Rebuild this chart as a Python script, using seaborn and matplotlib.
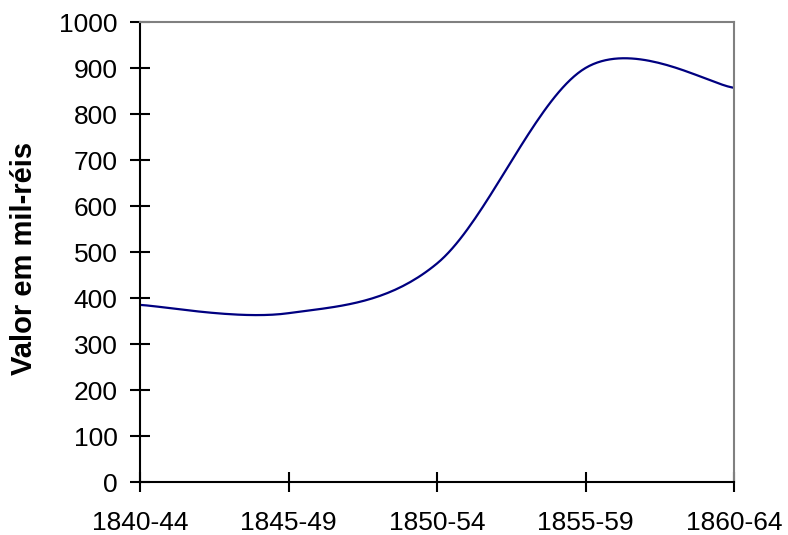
import numpy as np
import pandas as pd
import matplotlib
matplotlib.use("Agg")
import matplotlib.pyplot as plt
import seaborn as sns

periods = ["1840-44", "1845-49", "1850-54", "1855-59", "1860-64"]
valores = [385, 367, 475, 900, 857]
y_ticks = list(range(0, 1001, 100))


def excel_smooth(xs, ys, n=40):
    # bezier suave tipo Excel (tensao 1/6)
    xs = np.asarray(xs, float)
    ys = np.asarray(ys, float)
    px = np.concatenate([[xs[0]], xs, [xs[-1]]])
    py = np.concatenate([[ys[0]], ys, [ys[-1]]])
    out_x, out_y = [], []
    t = np.linspace(0, 1, n)
    for i in range(len(xs) - 1):
        p0 = np.array([px[i + 1], py[i + 1]])
        p3 = np.array([px[i + 2], py[i + 2]])
        c1 = p0 + (np.array([px[i + 2], py[i + 2]]) - np.array([px[i], py[i]])) / 6
        c2 = p3 - (np.array([px[i + 3], py[i + 3]]) - np.array([px[i + 1], py[i + 1]])) / 6
        pts = ((1 - t) ** 3)[:, None] * p0 + (3 * t * (1 - t) ** 2)[:, None] * c1 \
            + (3 * t ** 2 * (1 - t))[:, None] * c2 + (t ** 3)[:, None] * p3
        out_x.extend(pts[:, 0])
        out_y.extend(pts[:, 1])
    return out_x, out_y


sns.set_style("white")
plt.rcParams['font.family'] = ['Liberation Sans', 'DejaVu Sans']

sx, sy = excel_smooth(range(len(periods)), valores)
df = pd.DataFrame({"pos": sx, "valor": sy})

fig = plt.figure(figsize=(7.88, 5.35), dpi=100)
ax = fig.add_axes([140 / 788, 53 / 535, 594 / 788, 460 / 535])
sns.lineplot(data=df, x="pos", y="valor", ax=ax, color="#000080", linewidth=1.6, sort=False)

ax.set_xlim(0, len(periods) - 1)
ax.set_ylim(0, 1000)
ax.set_xticks(range(len(periods)))
ax.set_xticklabels(periods)
ax.set_yticks(y_ticks)
ax.set_xlabel("")
ax.set_ylabel("Valor em mil-réis", fontsize=21, fontweight="bold", color="black")
ax.yaxis.set_label_coords(-0.172, 0.487)

ax.tick_params(axis="both", bottom=True, left=True, direction="inout", length=14.4,
               width=1.5, color="black", labelsize=19, labelcolor="black")
ax.tick_params(axis="y", pad=9)
ax.tick_params(axis="x", pad=14)

for side in ["left", "bottom"]:
    ax.spines[side].set_color("black")
    ax.spines[side].set_linewidth(1.5)
for side in ["top", "right"]:
    ax.spines[side].set_color("#808080")
    ax.spines[side].set_linewidth(1.5)

fig.savefig("out.png", dpi=100)
